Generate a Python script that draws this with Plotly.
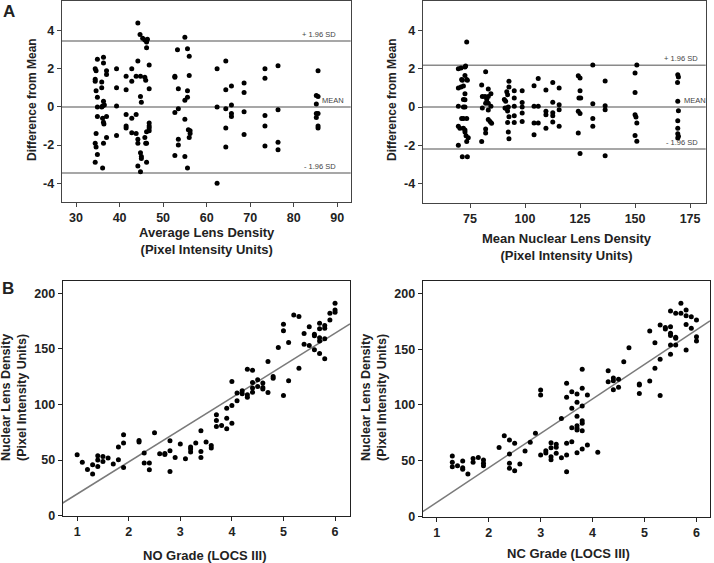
import plotly.graph_objects as go

# ---------------- Panel A (left): Bland-Altman, average lens density ----------------
a1_x = [34.4, 34.6, 34.9, 36.3, 36.3, 34.4, 34.4, 35.9, 34.6, 35.9, 37.0, 37.0, 34.9, 34.9, 35.9,
        36.3, 36.1, 36.5, 34.9, 36.1, 36.3, 36.4, 37.0, 34.6, 34.4, 34.6, 34.9, 34.4, 36.1, 36.3, 37.0,
        39.3, 39.3, 39.3, 39.3,
        41.5, 41.5, 41.5, 41.5, 41.5,
        42.8, 42.8, 42.8, 42.8,
        43.8, 43.8, 43.8,
        44.2, 44.2, 44.2, 44.2, 44.2,
        44.7, 44.8, 44.8, 45.0, 44.8, 45.0, 45.0, 44.8,
        45.3, 45.8, 45.8, 46.0, 46.2, 46.4, 46.2, 46.2, 45.8, 46.0, 46.2, 46.2,
        46.8, 46.8, 46.8, 46.8, 46.8, 46.8,
        52.7, 52.7, 53.3, 53.5, 53.5, 52.7, 53.5, 53.5, 52.7,
        55.0, 55.6, 56.0, 56.0, 55.6, 55.6, 55.0, 55.0, 55.8, 56.2, 56.2, 56.0, 55.0, 55.6,
        62.4, 62.4, 62.4,
        64.4, 64.4, 64.4, 64.4, 64.4,
        65.7, 65.7, 65.7, 65.7,
        68.6, 68.6, 68.6, 68.6,
        73.4, 73.4, 73.4, 73.4, 73.4,
        76.4, 76.4, 76.4, 76.4,
        85.6, 85.2, 85.6, 85.2, 85.2, 85.6, 85.2, 85.6, 85.6]
a1_y = [2.0, 1.9, 2.5, 2.6, 2.3, 1.45, 1.35, 1.3, 0.85, 1.0, 1.9, 1.7, 0.5, 0.0, 0.0,
        0.3, 0.05, 0.1, -0.5, -0.6, -0.8, -0.9, -0.5, -1.4, -1.9, -2.1, -2.5, -2.9, -3.2, -1.9, -1.6,
        2.0, 1.0, 0.05, -1.5,
        1.6, 0.9, -0.4, -1.0, -1.1,
        2.0, 1.35, -0.6, -1.35,
        1.6, -0.4, -1.4,
        2.4, 4.4, -1.7, -1.9, -3.1,
        3.8, 1.6, 0.55, 0.25, -2.4, -2.6, -2.7, -3.4,
        3.6, 3.5, 1.55, 1.4, 3.4, 3.55, 3.1, -1.3, -1.6, -1.9, -1.9, -2.9,
        2.2, 0.95, -0.85, -1.0, -1.1, -1.25,
        1.6, 1.55, 3.0, 0.95, -0.1, -0.3, -1.7, -2.0, -2.55,
        3.65, 3.05, 2.65, 1.65, 0.85, 0.5, 0.35, -0.65, -1.2, -1.25, -1.4, -1.6, -2.6, -3.2,
        2.0, 0.0, -4.0,
        2.4, 0.9, -0.1, -1.1, -2.1,
        1.1, 0.1, -0.35, -0.5,
        1.25, 0.75, -0.25, -1.45,
        2.0, 1.5, -0.45, -1.0, -2.05,
        2.15, -0.15, -1.85, -2.25,
        1.9, 0.6, 0.55, 0.15, -0.35, -0.35, -0.55, -1.0, -1.1]
a1_mean = 0.0
a1_loa = 3.46

# ---------------- Panel A (right): Bland-Altman, mean nuclear lens density ----------------
a2_x = [69.7, 70.9, 69.7, 70.9, 69.7, 69.7, 70.4, 69.7, 71.2, 71.5, 72.0, 72.0, 72.7, 72.0, 71.2,
        72.0, 72.0, 72.7, 71.5, 73.8, 72.7, 73.0, 73.5, 72.7, 73.5, 73.8, 72.7, 72.7, 73.5, 72.7,
        73.2, 73.5, 74.2,
        80.3, 82.1, 80.6, 80.6, 81.8, 82.1, 82.6, 80.3, 82.1, 82.1, 83.3, 83.3, 83.3, 83.3, 84.1,
        84.5, 84.5, 84.8, 83.3,
        90.6, 91.2, 90.9, 91.7, 91.7, 92.1, 92.4, 92.7, 92.7, 91.7, 92.1, 92.1, 92.4, 92.7, 92.7,
        95.1, 95.1, 95.1, 95.1, 95.1, 98.7, 98.7, 98.7, 98.7, 98.7,
        104.1, 106.0, 104.1, 106.0, 104.1, 106.0, 104.1, 109.5, 109.5, 109.5, 109.5,
        112.6, 112.6, 112.6, 112.6, 112.6, 115.5, 115.5, 115.5, 115.5,
        124.2, 125.0, 125.0, 124.5, 125.3, 124.2, 125.0, 124.2, 125.0,
        130.8, 130.8, 130.8, 130.8,
        136.4, 136.4, 136.4, 136.4,
        150.0, 150.8, 150.0, 150.0, 150.4, 150.8, 150.0, 150.8,
        169.4, 169.7, 169.3, 169.4, 169.7, 169.4, 169.4, 169.4, 169.7, 169.4]
a2_y = [2.0, 2.05, 1.0, 1.05, 0.05, -1.0, -1.1, -2.0, 1.45, 1.4, 1.1, 0.4, 0.38, 0.0, -0.6,
        -0.6, -1.1, -1.2, -2.6, -2.6, 2.1, 2.15, 3.4, 1.65, 1.45, 1.4, 0.7, 0.0, -0.6, -1.3,
        -1.5, -1.8, -1.6,
        1.15, 1.85, 0.55, -0.05, 0.55, 0.2, 0.4, -1.8, -1.15, -1.35, 0.95, 0.55, -0.15, -0.65, -0.75,
        0.7, 0.05, -0.85, 0.2,
        0.4, 0.3, -0.05, -0.05, -0.1, -0.2, 0.0, 1.35, 1.05, 0.8, 0.65, -0.8, -1.3, -1.65, -0.5,
        0.85, 0.47, 0.04, -0.45, -0.8, 0.85, 0.24, 0.0, -0.31, -0.75,
        1.12, 1.5, 0.05, 0.05, -0.83, -0.83, -1.44, 0.9, -0.22, -0.4, -1.1,
        1.29, 0.25, -0.3, -0.45, -0.78, 1.0, 0.12, -0.14, -1.0,
        1.64, 1.52, 0.85, 0.47, 0.47, -0.22, -0.34, -1.35, -2.43,
        2.2, 0.17, -0.6, -1.0,
        1.37, 0.07, -0.14, -2.54,
        1.78, 2.2, 0.77, -0.4, -0.52, -0.83, -1.49, -1.79,
        1.69, 1.57, 1.29, 0.3, -0.19, -0.71, -1.1, -1.39, -1.53, -1.61]
a2_mean = 0.0
a2_loa = 2.19

# ---------------- Panel B (left): NO grade vs nuclear lens density ----------------
b1_x = [1.0, 1.1, 1.2, 1.3, 1.3, 1.4, 1.4, 1.4, 1.5, 1.5, 1.6, 1.7, 1.8, 1.8, 1.9, 1.9, 1.9,
        2.2, 2.2, 2.3, 2.3, 2.4, 2.4, 2.5, 2.6, 2.7, 2.7, 2.8, 2.8, 2.8, 2.9, 3.0, 3.1,
        3.2, 3.2, 3.2, 3.3, 3.4, 3.4, 3.4, 3.5, 3.6, 3.6, 3.7, 3.7, 3.7, 3.8, 3.9, 3.9, 3.9,
        4.0, 4.0, 4.0, 4.1, 4.1, 4.2, 4.2, 4.3, 4.3, 4.3, 4.4, 4.4, 4.4, 4.4, 4.5, 4.5,
        4.6, 4.6, 4.6, 4.7, 4.7, 4.8, 4.8, 4.9, 5.0, 5.0, 5.0, 5.1, 5.1, 5.2, 5.3, 5.3,
        5.4, 5.4, 5.5, 5.5, 5.6, 5.6, 5.6, 5.7, 5.7, 5.7, 5.7, 5.7, 5.8, 5.8, 5.8, 5.8,
        5.9, 5.9, 6.0, 6.0, 6.0]
b1_y = [54.8, 48, 41.6, 45.8, 37.4, 53.9, 50, 44.3, 53.3, 48.8, 51.8, 46.4, 61.7, 50.3, 72.8, 65.3, 43.4,
        67.7, 66.2, 56.3, 47.3, 47.3, 41.3, 74.6, 55.7, 56, 55, 67.4, 58.4, 39.8, 52.4, 64.4, 51.2,
        61.7, 59.9, 57.2, 65.3, 76.3, 57.8, 52.4, 66.2, 63.2, 60.8, 90.7, 85.6, 80.2, 81.1, 96.7, 87.7, 78.1,
        120.7, 99.1, 83.2, 110.2, 103.3, 112.3, 109.6, 131.7, 108.7, 106.6, 130.8, 119.8, 114.7, 111, 122.2, 116.2,
        119.2, 115.3, 113.8, 138.6, 110.8, 125.1, 123.6, 151.2, 172.2, 166.2, 108.1, 155.7, 121.3, 180.5, 179, 132.6,
        163.8, 154.2, 169.8, 153, 163.2, 161.7, 149.1, 173, 168, 160, 157, 145.8, 171, 168.6, 159, 141,
        176, 182, 191, 185, 183]
b1_intercept = -9.4
b1_slope = 28.9

# ---------------- Panel B (right): NC grade vs nuclear lens density ----------------
b2_x = [1.3, 1.3, 1.3, 1.4, 1.5, 1.5, 1.5, 1.6, 1.7, 1.7, 1.8, 1.9, 1.9, 1.9,
        2.2, 2.3, 2.4, 2.4, 2.4, 2.4, 2.5, 2.5, 2.6, 2.7, 2.8, 2.9,
        3.0, 3.0, 3.0, 3.1, 3.1, 3.2, 3.2, 3.2, 3.2, 3.3, 3.3, 3.3, 3.4, 3.4,
        3.5, 3.5, 3.5, 3.5, 3.5, 3.6, 3.6, 3.6, 3.6,
        3.7, 3.7, 3.7, 3.7, 3.7, 3.7, 3.7, 3.8, 3.8, 3.8, 3.8, 3.8, 3.8, 3.8, 3.9, 3.9, 4.1,
        4.3, 4.3, 4.4, 4.4, 4.4, 4.5, 4.5, 4.6, 4.7, 4.9, 4.9, 4.9, 5.1, 5.1, 5.2, 5.2,
        5.3, 5.3, 5.3, 5.4, 5.4, 5.5, 5.5, 5.5, 5.5, 5.5, 5.5, 5.6, 5.6, 5.6, 5.6,
        5.7, 5.7, 5.8, 5.8, 5.8, 5.8, 5.9, 5.9, 6.0, 6.0, 6.0]
b2_y = [54.3, 48.7, 44.8, 45.7, 49.9, 43.9, 42.4, 38.2, 52.2, 48.7, 53.1, 50.7, 47.8, 45.7,
        62, 72.5, 68.7, 56.1, 47.8, 43.3, 65.7, 41.2, 47.2, 58.8, 66.6, 74.6,
        113.4, 109, 55.2, 59.1, 57, 66.3, 61.8, 53.7, 51, 64.8, 62.1, 56.7, 88, 52.8,
        119.4, 106.9, 65.7, 55.2, 40.3, 111.9, 97, 79.7, 67,
        109.9, 102.4, 89.9, 81.5, 79.1, 77.6, 57.3, 131.9, 114.9, 99.1, 86, 83.6, 77, 60.6, 109, 64.2, 57.6,
        130.7, 120.9, 124.2, 121.8, 113.7, 123, 115.8, 138.8, 151.3, 118.8, 117.9, 110.4, 166.3, 121.5, 155.8, 132.8,
        171.6, 140.9, 108.4, 169.3, 168, 184.2, 170.1, 164.2, 162.1, 153.7, 145.4, 182.1, 160.6, 159.7, 153.7,
        191, 182.1, 185, 180, 172, 149.3, 179, 168.6, 176, 161, 157.3]
b2_intercept = -18.1
b2_slope = 30.9

# tick labels
a1_xticks = [30, 40, 50, 60, 70, 80, 90]
a2_xticks = [75, 100, 125, 150, 175]
a_yticks = [-4, -2, 0, 2, 4]
a_yticktext = ["-4", "-2", "0", "2", "4"]
b_xticks = [1, 2, 3, 4, 5, 6]
b_yticks = [0, 50, 100, 150, 200]

# ---------------- styling ----------------
FONT = "Liberation Sans, Arial, sans-serif"
TXT = "#222222"
W, H = 714, 563

# axis ranges
a1_xr = [26.7, 93.1]
a2_xr = [53.5, 182.1]
a_yr = [-5.0, 5.55]
b1_xr = [0.72, 6.29]
b2_xr = [0.73, 6.26]
b_yr = [0, 211]

def dom_x(l, r):
    return [l / W, r / W]

def dom_y(t, b):
    return [1 - b / H, 1 - t / H]

def ax(domain, rng, anchor, tickvals, ticktext=None, color="#444444"):
    d = dict(domain=domain, range=rng, anchor=anchor, showgrid=False, zeroline=False,
             showline=True, mirror=True, linecolor=color, linewidth=1,
             ticks="outside", ticklen=4, tickwidth=1, tickcolor=color,
             tickvals=tickvals, tickfont=dict(family=FONT, size=12.5, color=TXT, weight="bold"),
             fixedrange=True, automargin=False)
    if ticktext is not None:
        d["ticktext"] = ticktext
    return d

fig = go.Figure()
mk = dict(color="black", size=5)
fig.add_trace(go.Scatter(x=a1_x, y=a1_y, mode="markers", marker=mk, xaxis="x", yaxis="y", showlegend=False))
fig.add_trace(go.Scatter(x=a2_x, y=a2_y, mode="markers", marker=mk, xaxis="x2", yaxis="y2", showlegend=False))

# regression lines spanning the axis ranges
for xr, b0, b1, xa, ya in [(b1_xr, b1_intercept, b1_slope, "x3", "y3"),
                           (b2_xr, b2_intercept, b2_slope, "x4", "y4")]:
    fig.add_trace(go.Scatter(x=xr, y=[b0 + b1 * xr[0], b0 + b1 * xr[1]], mode="lines",
                             line=dict(color="#7a7a7a", width=1.5), xaxis=xa, yaxis=ya,
                             showlegend=False, cliponaxis=True))
fig.add_trace(go.Scatter(x=b1_x, y=b1_y, mode="markers", marker=mk, xaxis="x3", yaxis="y3", showlegend=False))
fig.add_trace(go.Scatter(x=b2_x, y=b2_y, mode="markers", marker=mk, xaxis="x4", yaxis="y4", showlegend=False))

shapes = []
annotations = []
for xa, ya, mean, loa, xr_plus, xr_mean in [("x", "y", a1_mean, a1_loa, 0.956, 0.984),
                                            ("x2", "y2", a2_mean, a2_loa, 0.98, 1.008)]:
    for val in [mean + loa, mean, mean - loa]:
        shapes.append(dict(type="line", xref=xa + " domain", yref=ya, x0=0, x1=1, y0=val, y1=val,
                           line=dict(color="#8a8a8a", width=1.5), layer="below"))
    for val, txt, xp in [(mean + loa, "+ 1.96 SD", xr_plus), (mean, "MEAN", xr_mean),
                         (mean - loa, "- 1.96 SD", xr_plus)]:
        annotations.append(dict(xref=xa + " domain", yref=ya, x=xp, y=val, text=txt,
                                showarrow=False, xanchor="right", yanchor="bottom", yshift=0,
                                font=dict(family=FONT, size=7.5, color="#444444")))

def title(x, y, text, size=13, angle=0):
    annotations.append(dict(xref="paper", yref="paper", x=x / W, y=1 - y / H, text=text,
                            showarrow=False, xanchor="center", yanchor="middle", textangle=angle,
                            font=dict(family=FONT, size=size, color=TXT, weight="bold")))

title(207, 241, "Average Lens Density<br>(Pixel Intensity Units)", 13)
title(567, 247, "Mean Nuclear Lens Density<br>(Pixel Intensity Units)", 13)
title(32, 100, "Difference from Mean", 12, -90)
title(392, 100, "Difference from Mean", 12, -90)
title(14, 398, "Nuclear Lens Density<br>(Pixel Intensity Units)", 12.5, -90)
title(374, 398, "Nuclear Lens Density<br>(Pixel Intensity Units)", 12.5, -90)
title(205, 555, "NO Grade (LOCS III)", 13)
title(568, 553, "NC Grade (LOCS III)", 13)
title(9, 11, "A", 17)
title(8, 288, "B", 17)

fig.update_layout(
    width=W, height=H, margin=dict(l=0, r=0, t=0, b=0, autoexpand=False),
    paper_bgcolor="white", plot_bgcolor="white",
    xaxis=ax(dom_x(61.7, 350.7), a1_xr, "y", a1_xticks),
    yaxis=ax(dom_y(1, 202.3), a_yr, "x", a_yticks, a_yticktext),
    xaxis2=ax(dom_x(422.7, 705.7), a2_xr, "y2", a2_xticks),
    yaxis2=ax(dom_y(1, 202.7), a_yr, "x2", a_yticks, a_yticktext),
    xaxis3=ax(dom_x(62.7, 350), b1_xr, "y3", b_xticks, color="#222222"),
    yaxis3=ax(dom_y(281, 515.7), b_yr, "x3", b_yticks, color="#222222"),
    xaxis4=ax(dom_x(422.7, 710), b2_xr, "y4", b_xticks, color="#222222"),
    yaxis4=ax(dom_y(281, 516.7), b_yr, "x4", b_yticks, color="#222222"),
    shapes=shapes, annotations=annotations,
)

fig.write_html("out.html", config={"displayModeBar": False},
               post_script="document.body.style.margin='0';document.body.style.overflow='hidden';")
